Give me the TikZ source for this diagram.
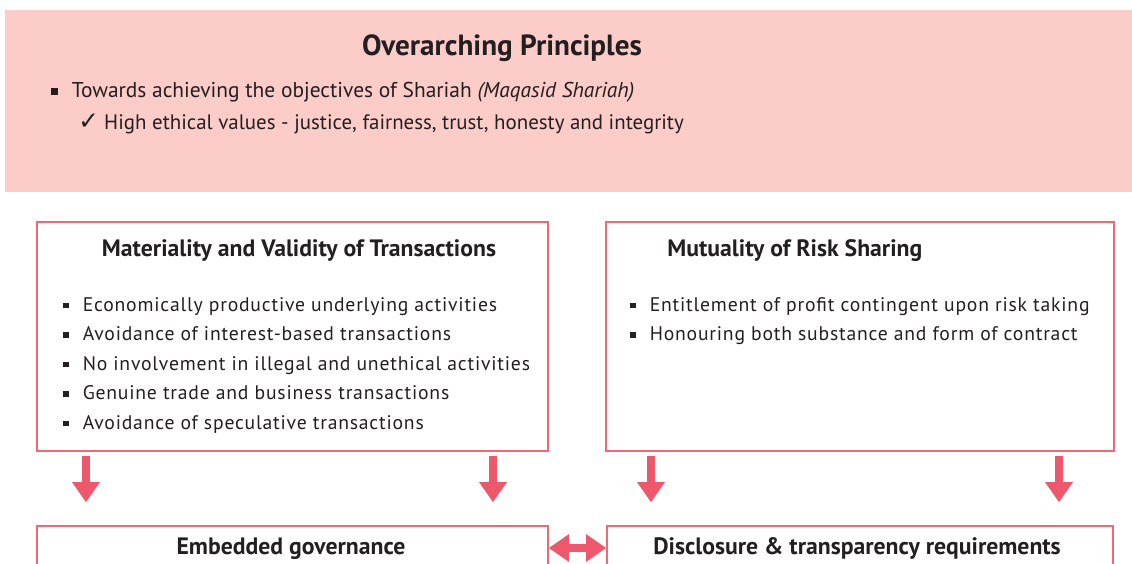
\documentclass[tikz,border=0pt]{standalone}
\usepackage{fontspec}
\setmainfont{PT Sans}
\newfontfamily\symfont{DejaVu Sans}
\newfontfamily\spacedfont[LetterSpace=4]{PT Sans}
\usetikzlibrary{arrows.meta,positioning,calc}
\definecolor{toppink}{RGB}{251,204,200}
\definecolor{edgepink}{RGB}{238,104,120}
\definecolor{arrowpink}{RGB}{237,88,108}
\definecolor{inkgray}{RGB}{35,31,32}
\newcommand{\sqbul}{\rule[0.3ex]{0.55ex}{0.55ex}}

\begin{document}
\begin{tikzpicture}[x=0.02cm,y=-0.02cm,text=inkgray,
  panel/.style={draw=edgepink,line width=0.9pt,inner sep=0pt},
  ttl/.style={font=\fontsize{13.5}{15}\selectfont\bfseries,inner sep=0pt},
  itm/.style={font=\fontsize{11.2}{13}\spacedfont,anchor=base west,inner sep=0pt},
  bigarrow/.style={draw=arrowpink,line width=4.5pt,-{Triangle[width=15pt,length=11.5pt]}},
  twoarrow/.style={draw=arrowpink,line width=4.5pt,{Triangle[width=15pt,length=11.5pt]}-{Triangle[width=15pt,length=11.5pt]}}]
\useasboundingbox (0,0) rectangle (1132,564);
\clip (0,0) rectangle (1132,564);

% overarching principles
\node[fill=toppink,minimum width=22.54cm,minimum height=3.64cm,inner sep=0pt] (top) at (568.5,101) {};
\node[font=\fontsize{16.6}{18}\selectfont\bfseries,inner sep=0pt,anchor=base] (toptitle) at (502,56) {Overarching Principles};
\node[font=\fontsize{12.2}{14}\selectfont,anchor=base west,inner sep=0pt] (obj) at (51,98) {\rule[0.3ex]{0.6ex}{0.6ex}\hspace{8pt}Towards achieving the objectives of Shariah \textit{(Maqasid Shariah)}};
\node[font=\fontsize{11.9}{14}\selectfont,anchor=base west,inner sep=0pt] (ethic) at (78,130) {{\symfont\fontsize{14}{14}\selectfont\char"2713}\hspace{3pt}High ethical values - justice, fairness, trust, honesty and integrity};

% the two pillars
\node[panel,minimum width=10.22cm,minimum height=4.58cm] (mat) at (292.5,336.5) {};
\node[panel,minimum width=10.16cm,minimum height=4.58cm] (risk) at (860,336.5) {};
\node[ttl,anchor=base] (matttl) at (299,256) {Materiality and Validity of Transactions};
\node[ttl,anchor=base west] (riskttl) at (667,256) {Mutuality of Risk Sharing};

\foreach \t [count=\i] in {Economically productive underlying activities,
  Avoidance of interest-based transactions,
  No involvement in illegal and unethical activities,
  Genuine trade and business transactions,
  Avoidance of speculative transactions}
  \node[itm] at (63,{281.5+29.5*\i}) {\sqbul\hspace{8pt}\t};
\foreach \t [count=\i] in {Entitlement of profit contingent upon risk taking,
  Honouring both substance and form of contract}
  \node[itm] at (630,{281.5+29.5*\i}) {\sqbul\hspace{8pt}\t};

% outcomes
\node[panel,minimum width=10.22cm,minimum height=0.88cm] (gov) at (292.5,548) {};
\node[panel,minimum width=10.12cm,minimum height=0.88cm] (disc) at (860,548) {};
\node[ttl,anchor=base] at (291,554) {Embedded governance};
\node[ttl,anchor=base] at (857,554) {Disclosure \& transparency requirements};

\foreach \x in {86,493}
  \draw[bigarrow,shorten <=2.3pt,shorten >=13pt] (mat.south -| \x,0) -- (gov.north -| \x,0);
\foreach \x in {651,1059}
  \draw[bigarrow,shorten <=2.3pt,shorten >=13pt] (risk.south -| \x,0) -- (disc.north -| \x,0);
\draw[twoarrow] (gov.east) -- (disc.west);
\end{tikzpicture}
\end{document}
